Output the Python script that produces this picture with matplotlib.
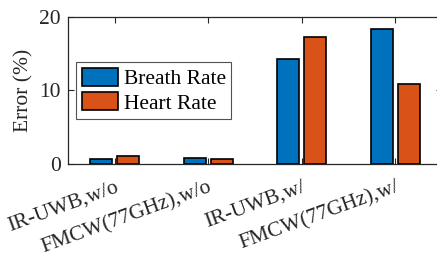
import matplotlib.pyplot as plt
import numpy as np

categories = ["IR-UWB,w/o", "FMCW(77GHz),w/o", "IR-UWB,w/", "FMCW(77GHz),w/"]
breath_rate = [0.62, 0.77, 14.3, 18.3]
heart_rate = [1.1, 0.68, 17.2, 10.9]

BLUE = "#0072BD"
ORANGE = "#D95319"
AXIS_COLOR = "#262626"

plt.rcParams["font.family"] = ["Liberation Serif", "DejaVu Serif"]

fig = plt.figure(figsize=(4.37, 2.59), dpi=100)
ax = fig.add_axes([68 / 437, 1 - 164 / 259, (442 - 68) / 437, (164 - 16.7) / 259])

x = np.arange(1, len(categories) + 1)
w = 0.235
off = 0.145
ax.bar(x - off, breath_rate, w, color=BLUE, edgecolor="black", lw=1.2, label="Breath Rate")
ax.bar(x + off, heart_rate, w, color=ORANGE, edgecolor="black", lw=1.2, label="Heart Rate")

ax.set_xlim(0.5, 4.5)
ax.set_ylim(0, 20)
ax.set_yticks([0, 10, 20])
ax.set_xticks(x)
ax.set_xticklabels(categories, rotation=20, ha="right", va="top",
                   rotation_mode="anchor", fontsize=15.5)
ax.tick_params(axis="y", labelsize=15.5, pad=5)
ax.tick_params(direction="in", length=4, width=0.8, colors=AXIS_COLOR,
               labelcolor="#262626", top=True, right=True)
ax.tick_params(axis="x", pad=10)
ax.set_ylabel("Error (%)", fontsize=15.5, color="#262626", labelpad=4)
for s in ax.spines.values():
    s.set_color(AXIS_COLOR)
    s.set_linewidth(0.9)

leg = ax.legend(loc="upper left", bbox_to_anchor=(0.022, 0.69), fontsize=15.5,
                frameon=True, fancybox=False, edgecolor="#262626",
                handlelength=1.7, handleheight=0.9, handletextpad=0.25,
                borderpad=0.25, labelspacing=0.15, borderaxespad=0)
leg.get_frame().set_linewidth(0.8)

fig.savefig("out.png", dpi=100)
